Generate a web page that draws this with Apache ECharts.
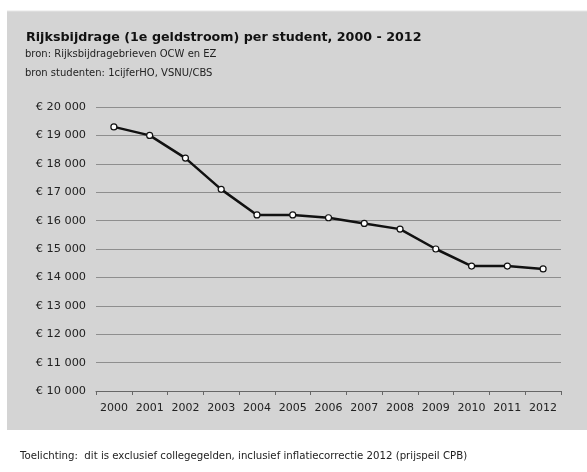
<!DOCTYPE html>
<html>
<head>
<meta charset="utf-8">
<script src="https://cdn.jsdelivr.net/npm/echarts@6/dist/echarts.min.js"></script>
<style>
html,body{margin:0;padding:0;background:#fff;}
#c{width:587px;height:472px;}
</style>
</head>
<body>
<div id="c"></div>
<script>
const years = ['2000','2001','2002','2003','2004','2005','2006','2007','2008','2009','2010','2011','2012'];
const perStudent = [19300, 19000, 18200, 17100, 16200, 16200, 16100, 15900, 15700, 15000, 14400, 14400, 14300];
const titleText = 'Rijksbijdrage (1e geldstroom) per student, 2000 - 2012';
const sourceLines = ['bron: Rijksbijdragebrieven OCW en EZ', 'bron studenten: 1cijferHO, VSNU/CBS'];
const footnote = 'Toelichting:  dit is exclusief collegegelden, inclusief inflatiecorrectie 2012 (prijspeil CPB)';

const chart = echarts.init(document.getElementById('c'), null, {renderer: 'canvas'});
const fmt = v => '€ ' + String(v).replace(/\B(?=(\d{3})+(?!\d))/g, ' ');
chart.setOption({
  animation: false,
  backgroundColor: '#ffffff',
  graphic: [
    {type: 'rect', z: -10, shape: {x: 7, y: 11, width: 580, height: 419}, style: {fill: '#d4d4d4'}},
    {type: 'line', z: -9, shape: {x1: 7, y1: 11, x2: 587, y2: 11}, style: {stroke: '#e6e6e6', lineWidth: 1}}
  ],
  title: [
    {text: titleText, left: 21, top: 26, textStyle: {fontFamily: 'DejaVu Sans', fontWeight: 'bold', fontSize: 12.7, color: '#111'}},
    {text: sourceLines[0], left: 20, top: 44, textStyle: {fontFamily: 'DejaVu Sans', fontWeight: 'normal', fontSize: 10, color: '#222'}},
    {text: sourceLines[1], left: 20, top: 63, textStyle: {fontFamily: 'DejaVu Sans', fontWeight: 'normal', fontSize: 10, color: '#222'}},
    {text: footnote, left: 15, top: 446, textStyle: {fontFamily: 'DejaVu Sans', fontWeight: 'normal', fontSize: 10.2, color: '#222'}}
  ],
  grid: {left: 96, right: 26, top: 107, bottom: 81, containLabel: false},
  xAxis: {
    type: 'category',
    data: years,
    boundaryGap: true,
    axisLine: {lineStyle: {color: '#666', width: 1}},
    axisTick: {show: true, length: 4, interval: 0, lineStyle: {color: '#666'}},
    axisLabel: {interval: 0, hideOverlap: false, margin: 12, fontFamily: 'DejaVu Sans', fontSize: 11, color: '#222'}
  },
  yAxis: {
    type: 'value',
    min: 10000, max: 20000, interval: 1000,
    axisLine: {show: false},
    axisTick: {show: false},
    axisLabel: {margin: 10, formatter: fmt, fontFamily: 'DejaVu Sans', fontSize: 11.3, color: '#222'},
    splitLine: {lineStyle: {color: '#8e8e8e', width: 1}}
  },
  series: [{
    type: 'line',
    data: perStudent,
    symbol: 'circle',
    symbolSize: 6,
    lineStyle: {color: '#111', width: 2.5},
    itemStyle: {color: '#ffffff', borderColor: '#111', borderWidth: 1.2}
  }]
});
</script>
</body>
</html>
